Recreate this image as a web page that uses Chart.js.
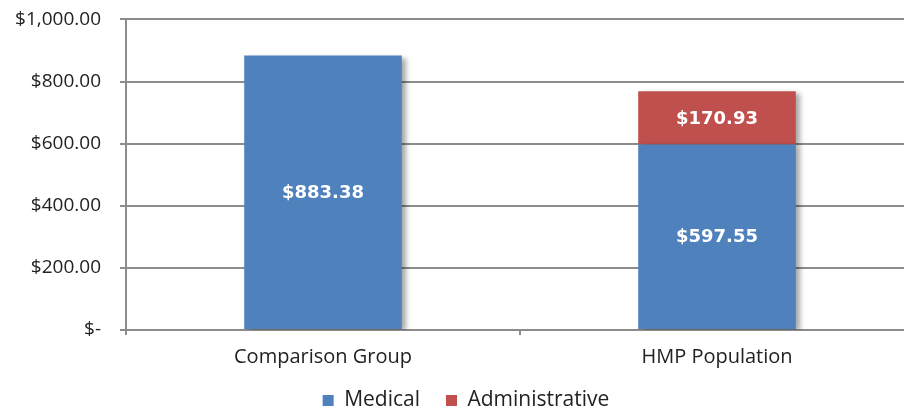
<!DOCTYPE html>
<html>
<head>
<meta charset="utf-8">
<script src="https://cdn.jsdelivr.net/npm/chart.js@4.4.1/dist/chart.umd.min.js"></script>
<style>
  html, body { margin: 0; padding: 0; background: #fff; overflow: hidden; }
  #wrap { width: 904px; height: 410px; overflow: hidden; }
</style>
</head>
<body>
<div id="wrap"><canvas id="costChart" width="914" height="436"></canvas></div>
<script>
const categories = ["Comparison Group", "HMP Population"];
const medical = [883.38, 597.55];
const administrative = [0, 170.93];
const yTicks = [0, 200, 400, 600, 800, 1000];

const money = (v) => v === 0 ? "$-" : "$" + v.toLocaleString("en-US", { minimumFractionDigits: 2, maximumFractionDigits: 2 });

// white value labels in the middle of each segment
const barLabels = {
  id: "barLabels",
  afterDatasetsDraw(chart) {
    const ctx = chart.ctx;
    ctx.save();
    ctx.fillStyle = "#fff";
    ctx.font = "bold 18px 'DejaVu Sans'";
    ctx.textAlign = "center";
    ctx.textBaseline = "middle";
    chart.data.datasets.forEach((ds, i) => {
      chart.getDatasetMeta(i).data.forEach((bar, j) => {
        if (!ds.data[j]) return;
        const { x, y, base } = bar.getProps(["x", "y", "base"], true);
        ctx.fillText(money(ds.data[j]), x, (y + base) / 2 + 1);
      });
    });
    ctx.restore();
  }
};

// soft drop shadow behind the bars
const barShadow = {
  id: "barShadow",
  beforeDatasetsDraw(chart) {
    const ctx = chart.ctx;
    ctx.save();
    ctx.shadowColor = "rgba(0,0,0,0.35)";
    ctx.shadowOffsetX = 4;
    ctx.shadowOffsetY = 2;
    ctx.shadowBlur = 5;
  },
  afterDatasetsDraw(chart) {
    chart.ctx.restore();
  }
};

// legend sits a little right of centre and closer to the axis in the original
const legendShift = {
  id: "legendShift",
  afterLayout(chart) {
    const lg = chart.legend;
    lg.left += 9;
    lg.right += 9;
    lg.top -= 15;
    lg.bottom -= 15;
  }
};

new Chart(document.getElementById("costChart"), {
  type: "bar",
  data: {
    labels: categories,
    datasets: [
      { label: "Medical", data: medical, backgroundColor: "#4F81BD" },
      { label: "Administrative", data: administrative, backgroundColor: "#C0504D" }
    ]
  },
  options: {
    responsive: false,
    animation: false,
    devicePixelRatio: 1,
    barPercentage: 1,
    categoryPercentage: 0.4,
    layout: { padding: { top: 5, left: 0, right: 0, bottom: 0 } },
    plugins: {
      tooltip: { enabled: false },
      legend: {
        position: "bottom",
        labels: {
          boxWidth: 11,
          boxHeight: 11,
          padding: 26,
          color: "#222",
          font: { family: "'Open Sans'", size: 21 }
        }
      }
    },
    scales: {
      x: {
        stacked: true,
        border: { color: "#8c8c8c", width: 2 },
        grid: { drawOnChartArea: false, drawTicks: true, tickLength: 5, color: "#8c8c8c", lineWidth: 2 },
        ticks: { color: "#222", padding: 10, font: { family: "'Open Sans'", size: 20 } }
      },
      y: {
        stacked: true,
        min: 0,
        max: 1000,
        afterFit(scale) {
          scale.width = 126;
          // the wide label padding should not push the plot down
          scale.paddingTop -= 11;
          scale.paddingBottom -= 11;
        },
        afterBuildTicks(scale) { scale.ticks = yTicks.map(v => ({ value: v })); },
        border: { color: "#8c8c8c", width: 2 },
        grid: { color: "#8c8c8c", lineWidth: 2, tickLength: 6 },
        ticks: {
          color: "#222",
          padding: 19,
          font: { family: "'Open Sans'", size: 19 },
          callback: (v) => money(v)
        }
      }
    }
  },
  plugins: [barShadow, barLabels, legendShift]
});
</script>
</body>
</html>
